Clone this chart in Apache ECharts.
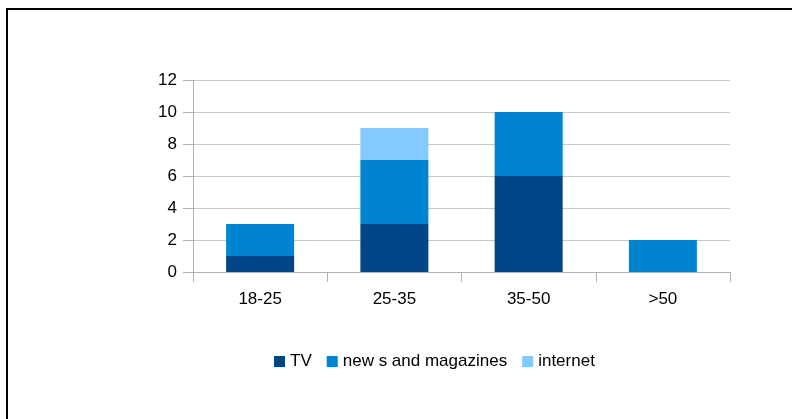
<!DOCTYPE html>
<html>
<head>
<meta charset="utf-8">
<script src="https://cdn.jsdelivr.net/npm/echarts@6/dist/echarts.min.js"></script>
<style>html,body{margin:0;padding:0;background:#fff;}#c{width:792px;height:419px;}</style>
</head>
<body>
<div id="c"></div>
<script>
const categories = ['18-25', '25-35', '35-50', '>50'];
const seriesNames = ['TV', 'new s and magazines', 'internet'];
const tvValues = [1, 3, 6, 0];
const newsValues = [2, 4, 4, 2];
const internetValues = [0, 2, 0, 0];
const yTicks = [0, 2, 4, 6, 8, 10, 12];
const colors = ['#004586', '#0084d1', '#83caff'];

const chart = echarts.init(document.getElementById('c'), null, {renderer: 'canvas'});
const font = 'Liberation Sans, Arial, sans-serif';
const axisGray = '#b3b3b3';
chart.setOption({
  animation: false,
  color: colors,
  textStyle: {fontFamily: font},
  graphic: [{
    type: 'rect', silent: true,
    shape: {x: 7, y: 9, width: 900, height: 600},
    style: {fill: 'none', stroke: '#000', lineWidth: 2}
  }],
  grid: {left: 193, right: 62, top: 80, bottom: 147, containLabel: false},
  legend: {
    left: 274, top: 353, padding: 0,
    itemWidth: 11, itemHeight: 11, itemGap: 15,
    icon: 'rect',
    textStyle: {fontSize: 17, color: '#000', fontFamily: font},
    data: seriesNames
  },
  xAxis: {
    type: 'category', data: categories,
    axisLine: {lineStyle: {color: axisGray, width: 1}},
    axisTick: {show: true, length: 10, alignWithLabel: false, lineStyle: {color: axisGray}},
    axisLabel: {color: '#000', fontSize: 17, margin: 19, fontFamily: font}
  },
  yAxis: {
    type: 'value', min: 0, max: 12, interval: 2,
    axisLine: {show: true, lineStyle: {color: axisGray, width: 1}},
    axisTick: {show: true, length: 10, inside: false, lineStyle: {color: axisGray}},
    splitLine: {show: true, lineStyle: {color: '#c8c8c8', width: 1}},
    axisLabel: {color: '#000', fontSize: 17, margin: 16, fontFamily: font,
      formatter: v => yTicks.includes(v) ? String(v) : ''}
  },
  series: [
    {name: seriesNames[0], type: 'bar', stack: 's', data: tvValues, barWidth: 68},
    {name: seriesNames[1], type: 'bar', stack: 's', data: newsValues, barWidth: 68},
    {name: seriesNames[2], type: 'bar', stack: 's', data: internetValues, barWidth: 68}
  ]
});
</script>
</body>
</html>
